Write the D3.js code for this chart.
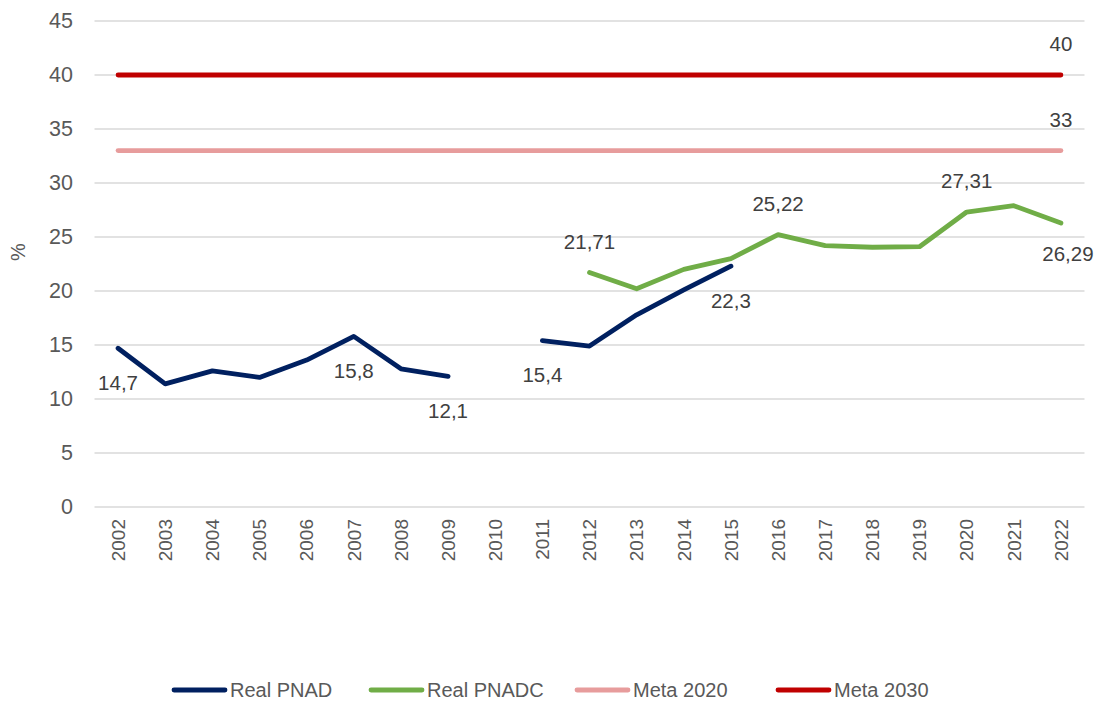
<html>
<head>
<meta charset="utf-8">
<script src="https://d3js.org/d3.v7.min.js"></script>
<style>
body { margin: 0; background: #fff; }
text { font-family: "Liberation Sans", Arial, sans-serif; }
</style>
</head>
<body>
<svg width="1102" height="704"></svg>
<script>
// data
const years = ["2002","2003","2004","2005","2006","2007","2008","2009","2010","2011","2012",
               "2013","2014","2015","2016","2017","2018","2019","2020","2021","2022"];
const realPNAD  = [14.7, 11.4, 12.6, 12.0, 13.6, 15.8, 12.8, 12.1, null, 15.4, 14.9,
                   17.8, 20.1, 22.3, null, null, null, null, null, null, null];
const realPNADC = [null, null, null, null, null, null, null, null, null, null, 21.71,
                   20.2, 22.0, 23.0, 25.22, 24.2, 24.05, 24.1, 27.31, 27.9, 26.29];
const meta2020  = [33, 33, 33, 33, 33, 33, 33, 33, 33, 33, 33,
                   33, 33, 33, 33, 33, 33, 33, 33, 33, 33];
const meta2030  = [40, 40, 40, 40, 40, 40, 40, 40, 40, 40, 40,
                   40, 40, 40, 40, 40, 40, 40, 40, 40, 40];
const yTicks = [0, 5, 10, 15, 20, 25, 30, 35, 40, 45];

// which points carry a label
const pnadLabelled  = ["2002","2007","2009","2011","2015"];
const pnadcLabelled = ["2012","2016","2020","2022"];

const series = [
  {name: "Real PNAD",  values: realPNAD,  color: "#002060"},
  {name: "Real PNADC", values: realPNADC, color: "#70ad47"},
  {name: "Meta 2020",  values: meta2020,  color: "#e79c9c"},
  {name: "Meta 2030",  values: meta2030,  color: "#c00000"}
];

var svg = d3.select("svg");
var plotL = 94.5, plotR = 1084.5, plotT = 21, plotB = 507;

var x = d3.scaleBand().domain(years).range([plotL, plotR]);
var y = d3.scaleLinear().domain([0, 45]).range([plotB, plotT]);
var cx = function(yr) { return x(yr) + x.bandwidth() / 2; };

// gridlines
svg.append("g").selectAll("line").data(yTicks).enter().append("line")
  .attr("x1", plotL).attr("x2", plotR)
  .attr("y1", d => y(d)).attr("y2", d => y(d))
  .attr("stroke", "#d9d9d9").attr("stroke-width", 1.3);

// y axis labels
var yAxis = svg.append("g").attr("transform", "translate(" + 83 + ",0)")
  .call(d3.axisLeft(y).tickValues(yTicks).tickSize(0).tickPadding(10));
yAxis.select(".domain").remove();
yAxis.selectAll("text").attr("fill", "#595959").style("font-size", "21.5px")
  .style("font-family", "Liberation Sans");

// x axis labels, rotated
var xAxis = svg.append("g").attr("transform", "translate(0," + plotB + ")")
  .call(d3.axisBottom(x).tickSize(0).tickPadding(0));
xAxis.select(".domain").remove();
xAxis.selectAll("text")
  .attr("fill", "#595959").style("font-size", "19px").style("font-family", "Liberation Sans")
  .attr("text-anchor", "end").attr("y", 0).attr("dy", "0.36em")
  .attr("transform", "translate(0,12) rotate(-90)");

// y title
svg.append("text").attr("transform", "translate(25,252) rotate(-90)")
  .attr("text-anchor", "middle").attr("fill", "#595959").style("font-size", "20px")
  .text("%");

// lines
var line = d3.line()
  .defined(d => d.v != null)
  .x(d => cx(d.yr)).y(d => y(d.v));

series.slice().reverse().forEach(function(s) {
  var pts = years.map((yr, i) => ({yr: yr, v: s.values[i]}));
  svg.append("path").datum(pts)
    .attr("d", line)
    .attr("fill", "none").attr("stroke", s.color).attr("stroke-width", 4.8)
    .attr("stroke-linecap", "round").attr("stroke-linejoin", "round");
});

// data labels
function label(yr, v, dx, dy) {
  svg.append("text")
    .attr("x", cx(yr) + dx).attr("y", y(v) + dy)
    .attr("text-anchor", "middle").attr("dy", "0.36em")
    .attr("fill", "#404040").style("font-size", "20.5px")
    .text(String(v).replace(".", ","));
}
pnadLabelled.forEach(function(yr) {
  label(yr, realPNAD[years.indexOf(yr)], 0, 34);
});
pnadcLabelled.forEach(function(yr) {
  var v = realPNADC[years.indexOf(yr)];
  if (yr == "2022") label(yr, v, 7, 31);
  else label(yr, v, 0, -31);
});
label("2022", meta2030[20], 0, -31);
label("2022", meta2020[20], 0, -31);

// legend
var legX = [172, 369, 575, 776];
series.forEach(function(s, i) {
  var g = svg.append("g").attr("transform", "translate(" + legX[i] + ",690)");
  g.append("line").attr("x1", 2).attr("x2", 53)
    .attr("stroke", s.color).attr("stroke-width", 4.8).attr("stroke-linecap", "round");
  g.append("text").attr("x", 58).attr("dy", "0.36em")
    .attr("fill", "#595959").style("font-size", "20px").text(s.name);
});
</script>
</body>
</html>
